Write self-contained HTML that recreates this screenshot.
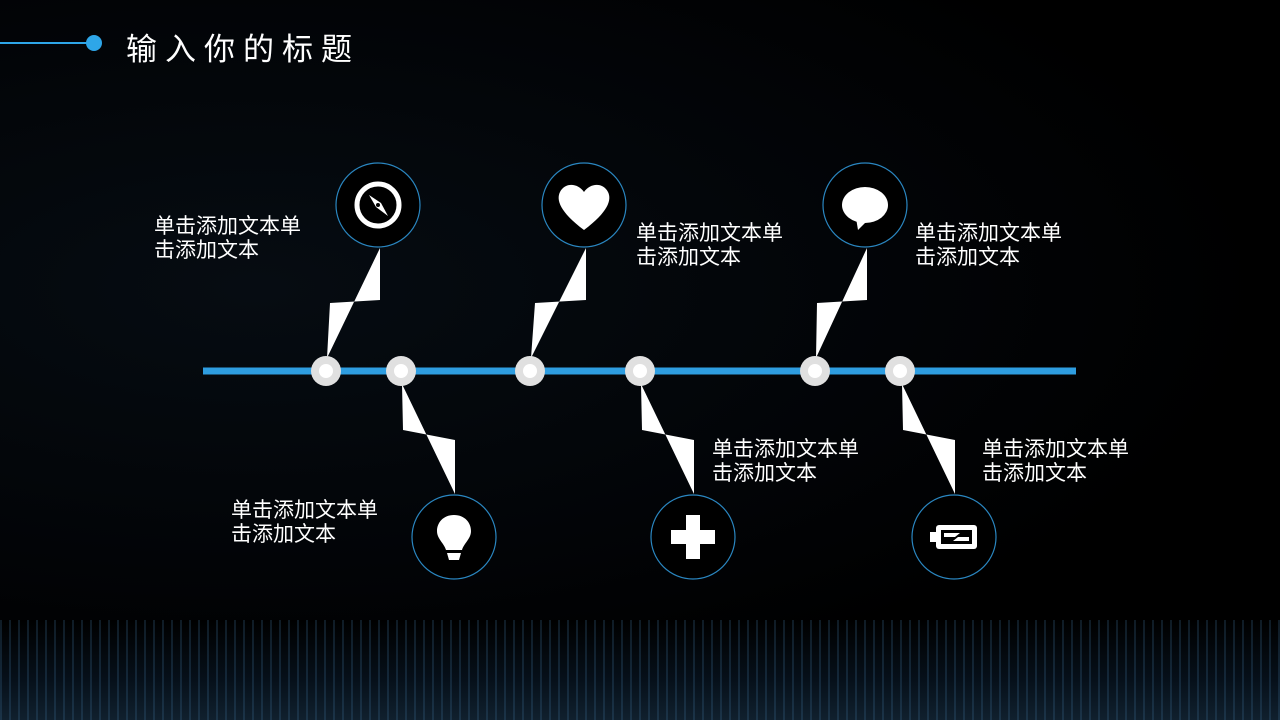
<!DOCTYPE html>
<html><head><meta charset="utf-8"><style>
body{margin:0;width:1280px;height:720px;overflow:hidden;background:#000;font-family:"Liberation Sans","Noto Sans CJK SC",sans-serif;}
.t{position:absolute;color:#fff;font-size:21px;line-height:24px;}
</style></head><body>
<div style="position:absolute;left:0;top:0;width:1280px;height:720px;background:radial-gradient(ellipse at 20% 40%,#060c12 0%,#020407 45%,#000 70%);"></div>
<div style="position:absolute;left:0;top:620px;width:1280px;height:100px;background:repeating-linear-gradient(90deg,rgba(60,110,150,.25) 0 2px,transparent 2px 9px),linear-gradient(#000,#06101a 60%,#10202e);"></div>
<svg width="1280" height="720" style="position:absolute;left:0;top:0">
<line x1="0" y1="43" x2="88" y2="43" stroke="#2ea6e8" stroke-width="2"/>
<circle cx="94" cy="43" r="8" fill="#2ea6e8"/>
<line x1="203" y1="371" x2="1076" y2="371" stroke="#2e9de0" stroke-width="7"/>
<g fill="#fff">
<path d="M380,248 L380,300 L330,303 L327,358 Z"/>
<path d="M586,248 L586,300 L535,303 L531,358 Z"/>
<path d="M867,248 L867,300 L817,303 L816,358 Z"/>
<path d="M402,384 L403,430 L455,440 L455,494 Z"/>
<path d="M641,384 L642,430 L694,440 L694,494 Z"/>
<path d="M902,384 L903,430 L955,440 L955,494 Z"/>
</g>
<g fill="#e0e0e0">
<circle cx="326" cy="371" r="15"/><circle cx="401" cy="371" r="15"/><circle cx="530" cy="371" r="15"/>
<circle cx="640" cy="371" r="15"/><circle cx="815" cy="371" r="15"/><circle cx="900" cy="371" r="15"/>
</g>
<g fill="#fff">
<circle cx="326" cy="371" r="7"/><circle cx="401" cy="371" r="7"/><circle cx="530" cy="371" r="7"/>
<circle cx="640" cy="371" r="7"/><circle cx="815" cy="371" r="7"/><circle cx="900" cy="371" r="7"/>
</g>
<g fill="#000" stroke="#2a86c0" stroke-width="1.2">
<circle cx="378" cy="205" r="42"/><circle cx="584" cy="205" r="42"/><circle cx="865" cy="205" r="42"/>
<circle cx="454" cy="537" r="42"/><circle cx="693" cy="537" r="42"/><circle cx="954" cy="537" r="42"/>
</g>
<circle cx="378" cy="205" r="21" fill="none" stroke="#fff" stroke-width="5"/>
<path d="M369,195 L381,203 L388,216 L376,207 Z" fill="#fff"/><circle cx="378" cy="205" r="2" fill="#000"/>
<path d="M584,230 C560,212 556,200 560,192 C565,182 578,183 584,192 C590,183 603,182 608,192 C612,200 608,212 584,230 Z" fill="#fff"/>
<ellipse cx="865" cy="205" rx="23" ry="18" fill="#fff"/><path d="M856,218 L858,230 L868,220 Z" fill="#fff"/>
<path d="M454,515 C443,515 437,523 437,531 C437,539 444,543 446,550 L462,550 C464,543 471,539 471,531 C471,523 465,515 454,515 Z" fill="#fff"/>
<path d="M447,553 L461,553 L459,560 L449,560 Z" fill="#fff"/>
<path d="M686,515 h14 v15 h15 v14 h-15 v15 h-14 v-15 h-15 v-14 h15 Z" fill="#fff"/>
<rect x="936" y="525" width="41" height="24" rx="3" fill="#fff"/><rect x="930" y="532" width="6" height="10" fill="#fff"/>
<rect x="941" y="530" width="31" height="14" fill="#000"/>
<path d="M944,533 h16 l-5,4 h14 v4 h-16 l5,-4 h-14 Z" fill="#fff"/>
</svg>
<div style="position:absolute;left:126px;top:24px;color:#fff;font-size:31px;letter-spacing:8px;">输入你的标题</div>
<div class="t" style="left:154px;top:215px">单击添加文本单<br>击添加文本</div>
<div class="t" style="left:636px;top:222px">单击添加文本单<br>击添加文本</div>
<div class="t" style="left:915px;top:222px">单击添加文本单<br>击添加文本</div>
<div class="t" style="left:231px;top:499px">单击添加文本单<br>击添加文本</div>
<div class="t" style="left:712px;top:438px">单击添加文本单<br>击添加文本</div>
<div class="t" style="left:982px;top:438px">单击添加文本单<br>击添加文本</div>
</body></html>
